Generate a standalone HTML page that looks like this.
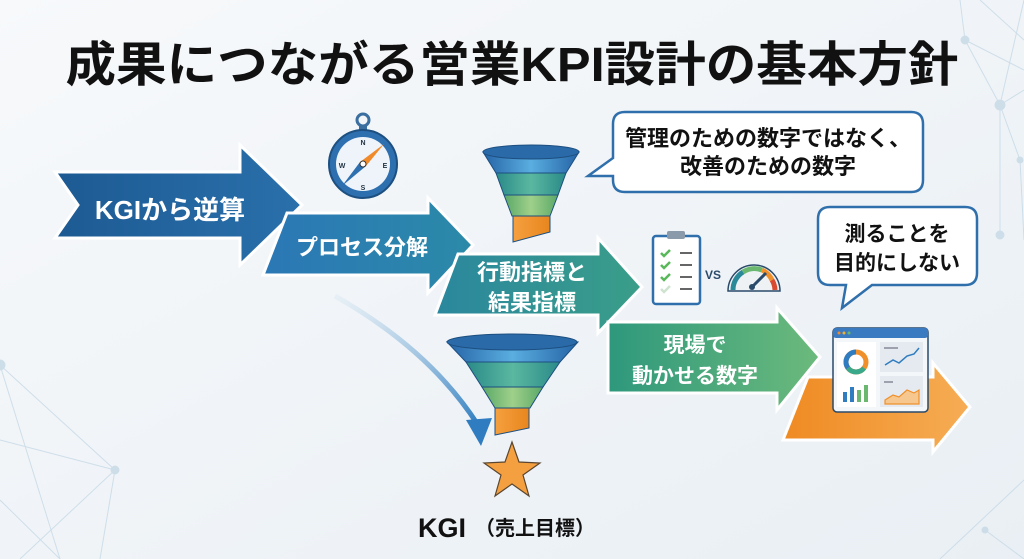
<!DOCTYPE html>
<html><head><meta charset="utf-8">
<style>
html,body{margin:0;padding:0;}
body{width:1024px;height:559px;overflow:hidden;background:#f2f5f8;}
svg{display:block;}
text{font-family:"Liberation Sans","Noto Sans CJK JP",sans-serif;font-weight:bold;}
</style></head>
<body>
<svg width="1024" height="559" viewBox="0 0 1024 559" xmlns="http://www.w3.org/2000/svg">
<defs>
<linearGradient id="bg" x1="0" y1="0" x2="1" y2="1">
<stop offset="0" stop-color="#f7f9fb"/><stop offset="1" stop-color="#e9eff4"/></linearGradient>
<linearGradient id="a1" x1="0" x2="1"><stop offset="0" stop-color="#1d5a93"/><stop offset="1" stop-color="#2a70ab"/></linearGradient>
<linearGradient id="a2" x1="0" x2="1"><stop offset="0" stop-color="#2b77b6"/><stop offset="1" stop-color="#2b8aa8"/></linearGradient>
<linearGradient id="a3" x1="0" x2="1"><stop offset="0" stop-color="#2a879e"/><stop offset="1" stop-color="#3a9e88"/></linearGradient>
<linearGradient id="a4" x1="0" x2="1"><stop offset="0" stop-color="#2e987c"/><stop offset="1" stop-color="#6cba7c"/></linearGradient>
<linearGradient id="a5" x1="0" x2="1"><stop offset="0" stop-color="#ef8a22"/><stop offset="1" stop-color="#f6ad55"/></linearGradient>
<linearGradient id="fb" x1="0" x2="1"><stop offset="0" stop-color="#2563a6"/><stop offset=".5" stop-color="#5aaee0"/><stop offset="1" stop-color="#2563a6"/></linearGradient>
<linearGradient id="ft" x1="0" x2="1"><stop offset="0" stop-color="#2a8a88"/><stop offset=".5" stop-color="#5ab8a0"/><stop offset="1" stop-color="#2a8a88"/></linearGradient>
<linearGradient id="fg" x1="0" x2="1"><stop offset="0" stop-color="#5aa868"/><stop offset=".5" stop-color="#9fd08a"/><stop offset="1" stop-color="#5aa868"/></linearGradient>
<linearGradient id="fo" x1="0" x2="1"><stop offset="0" stop-color="#f5a040"/><stop offset="1" stop-color="#e8861e"/></linearGradient>
<linearGradient id="cv" x1="0" y1="0" x2="1" y2="1"><stop offset="0" stop-color="#cfe3f0" stop-opacity=".3"/><stop offset="1" stop-color="#2f7dc0"/></linearGradient>
</defs>
<rect width="1024" height="559" fill="url(#bg)"/>
<g stroke="#c6d9e6" stroke-width="1" fill="#c6d9e6" opacity=".8">
<line x1="0" y1="365" x2="115" y2="470"/><line x1="0" y1="365" x2="60" y2="559"/><line x1="115" y1="470" x2="20" y2="559"/><line x1="115" y1="470" x2="100" y2="559"/><line x1="0" y1="440" x2="115" y2="470"/><line x1="0" y1="500" x2="60" y2="559"/>
<circle cx="0" cy="365" r="5"/><circle cx="115" cy="470" r="4"/>
<line x1="960" y1="0" x2="965" y2="40"/><line x1="965" y1="40" x2="1024" y2="70"/><line x1="965" y1="40" x2="1000" y2="105"/><line x1="1000" y1="105" x2="1024" y2="90"/><line x1="1000" y1="105" x2="1020" y2="160"/><line x1="1000" y1="105" x2="1000" y2="235"/><line x1="1020" y1="160" x2="1024" y2="240"/><line x1="1000" y1="105" x2="1024" y2="0"/><line x1="980" y1="0" x2="1024" y2="40"/>
<circle cx="965" cy="40" r="4"/><circle cx="1000" cy="105" r="5"/><circle cx="1020" cy="160" r="3"/><circle cx="1000" cy="235" r="4"/>
<line x1="940" y1="559" x2="1024" y2="480"/><line x1="985" y1="530" x2="1024" y2="559"/><circle cx="985" cy="530" r="3"/>
</g>
<text x="512" y="81" font-size="48" text-anchor="middle" fill="#111" textLength="893" lengthAdjust="spacingAndGlyphs">成果につながる営業KPI設計の基本方針</text>

<path d="M335 296 Q430 350 478 425" fill="none" stroke="url(#cv)" stroke-width="5"/>
<polygon points="466,420 492,418 481,446" fill="#2f7dc0"/>

<g stroke="#ffffff" stroke-width="3" stroke-linejoin="miter">
<polygon points="55,172 240,172 240,145 302,205 240,265 240,238 55,238 78,205" fill="url(#a1)"/>
<polygon points="287,213 428,213 428,198 473,245 428,293 428,275 263,275" fill="url(#a2)"/>
<polygon points="458,254 598,254 598,238 642,287 598,333 598,315 435,315" fill="url(#a3)"/>
<polygon points="608,322 777,322 777,308 820,357 777,410 777,393 608,393" fill="url(#a4)"/>
<polygon points="808,377 933,377 933,363 970,407 933,452 933,440 783,440" fill="url(#a5)"/>
</g>
<g fill="#fff" text-anchor="middle">
<text x="170" y="219" font-size="26">KGIから逆算</text>
<text x="362" y="255" font-size="22">プロセス分解</text>
<text x="532" y="280" font-size="22">行動指標と</text>
<text x="532" y="310" font-size="22">結果指標</text>
<text x="695" y="352" font-size="21">現場で</text>
<text x="695" y="383" font-size="21">動かせる数字</text>
</g>

<g>
<circle cx="363" cy="120" r="6" fill="none" stroke="#3a6fa0" stroke-width="3"/>
<rect x="359" y="125" width="8" height="6" fill="#3a6fa0"/>
<circle cx="363" cy="164" r="34" fill="#2e6fb0" stroke="#1d4f80" stroke-width="2"/>
<circle cx="363" cy="164" r="27" fill="#eef4fa"/>
<polygon points="384,144 360,162 366,166" fill="#f08a2a"/>
<polygon points="342,186 360,162 366,166" fill="#2e6fb0"/>
<circle cx="363" cy="164" r="3" fill="#fff" stroke="#333"/>
<g font-size="7" fill="#234" text-anchor="middle"><text x="363" y="145">N</text><text x="363" y="190">S</text><text x="342" y="168">W</text><text x="385" y="168">E</text></g>
</g>

<g stroke="#1d4f80" stroke-width="1">
<polygon points="483,152 579,152 566,173 496,173" fill="url(#fb)"/>
<polygon points="496,173 566,173 558,195 504,195" fill="url(#ft)"/>
<polygon points="504,195 558,195 550,216 512,216" fill="url(#fg)"/>
<polygon points="513,216 550,216 550,232 513,242" fill="url(#fo)"/>
<ellipse cx="531" cy="152" rx="48" ry="7" fill="#2a6aa8"/>
</g>
<g stroke="#1d4f80" stroke-width="1">
<polygon points="447,342 578,342 560,362 466,362" fill="url(#fb)"/>
<polygon points="466,362 560,362 543,387 482,387" fill="url(#ft)"/>
<polygon points="482,387 543,387 530,408 495,408" fill="url(#fg)"/>
<polygon points="495,408 529,408 529,428 495,435" fill="url(#fo)"/>
<ellipse cx="512" cy="342" rx="65" ry="8" fill="#2a6aa8"/>
</g>
<polygon points="512,442 519,462 540,463 523,475 529,496 512,484 495,496 501,475 484,463 505,462" fill="#f4a040" stroke="#5a4630" stroke-width="1.2"/>
<text x="418" y="537" font-size="27" fill="#111">KGI</text>
<text x="475" y="535" font-size="20" fill="#111">（売上目標）</text>

<path d="M625 112 H911 Q923 112 923 124 V180 Q923 192 911 192 H625 Q613 192 613 180 V176 L588 176 L613 158 V124 Q613 112 625 112 Z" fill="#fff" stroke="#2f6fab" stroke-width="2.5"/>
<text x="768" y="146" font-size="22" text-anchor="middle" fill="#111">管理のための数字ではなく、</text>
<text x="768" y="174" font-size="22" text-anchor="middle" fill="#111">改善のための数字</text>
<path d="M830 207 H965 Q977 207 977 219 V273 Q977 285 965 285 H872 L842 308 L846 285 H830 Q818 285 818 273 V219 Q818 207 830 207 Z" fill="#fff" stroke="#2f6fab" stroke-width="2.5"/>
<text x="897" y="241" font-size="21" text-anchor="middle" fill="#111">測ることを</text>
<text x="897" y="270" font-size="21" text-anchor="middle" fill="#111">目的にしない</text>

<rect x="653" y="236" width="47" height="68" rx="3" fill="#fff" stroke="#2f6fab" stroke-width="2.5"/>
<rect x="667" y="231" width="18" height="8" rx="2" fill="#8a9aaa"/>
<g stroke="#5ab85a" stroke-width="2.5" fill="none"><path d="M661 253 l3 3 l6 -6"/><path d="M661 265 l3 3 l6 -6"/><path d="M661 277 l3 3 l6 -6"/></g>
<path d="M661 289 l3 3 l6 -6" stroke="#cfe3d0" stroke-width="2.5" fill="none"/>
<g stroke="#333" stroke-width="1.5"><line x1="680" y1="253" x2="692" y2="253"/><line x1="680" y1="265" x2="692" y2="265"/><line x1="680" y1="277" x2="692" y2="277"/><line x1="680" y1="289" x2="692" y2="289"/></g>
<text x="705" y="279" font-size="12" fill="#2a4a6a">VS</text>
<path d="M728 291 A26 26 0 0 1 780 291 Z" fill="#eef2f5" stroke="#2a4a6a" stroke-width="1.5"/>
<path d="M733 290 A21 21 0 0 1 743 272" stroke="#2a8a9a" stroke-width="5" fill="none"/>
<path d="M743 272 A21 21 0 0 1 762 270" stroke="#6ab870" stroke-width="5" fill="none"/>
<path d="M762 270 A21 21 0 0 1 772 280" stroke="#f0902a" stroke-width="5" fill="none"/>
<path d="M772 280 A21 21 0 0 1 775 290" stroke="#d94a30" stroke-width="5" fill="none"/>
<line x1="752" y1="287" x2="766" y2="273" stroke="#2a4a6a" stroke-width="3"/>
<circle cx="752" cy="287" r="3" fill="#2a4a6a"/>

<rect x="833" y="328" width="95" height="84" rx="4" fill="#f4f7fa" stroke="#2a4a6a" stroke-width="1.5"/>
<rect x="833" y="328" width="95" height="10" rx="3" fill="#3a7ac0"/>
<circle cx="839" cy="333" r="1.5" fill="#f08a2a"/><circle cx="844" cy="333" r="1.5" fill="#f0b030"/><circle cx="849" cy="333" r="1.5" fill="#6ab870"/>
<rect x="837" y="342" width="39" height="65" fill="#fff"/>
<circle cx="856" cy="362" r="10" fill="none" stroke="#f0902a" stroke-width="5"/>
<path d="M856 352 A10 10 0 0 0 848 368" fill="none" stroke="#2f7dc0" stroke-width="5"/>
<path d="M848 368 A10 10 0 0 0 864 368" fill="none" stroke="#3aa88a" stroke-width="5"/>
<rect x="843" y="392" width="4" height="10" fill="#2f7dc0"/><rect x="850" y="387" width="4" height="15" fill="#2f7dc0"/><rect x="857" y="390" width="4" height="12" fill="#6ab870"/><rect x="864" y="385" width="4" height="17" fill="#6ab870"/>
<rect x="880" y="342" width="43" height="30" fill="#e4eaf0"/>
<rect x="880" y="376" width="43" height="31" fill="#e4eaf0"/>
<path d="M885 365 l8 -5 l6 3 l8 -7 l7 -2 l5 -6" stroke="#2f7dc0" stroke-width="1.5" fill="none"/>
<path d="M885 400 l8 -5 l6 2 l8 -7 l7 3 l5 -3 V404 H885 Z" fill="#f6c890" stroke="#f0902a" stroke-width="1.2"/>
<line x1="884" y1="348" x2="898" y2="348" stroke="#889" stroke-width="1.5"/>
<line x1="884" y1="382" x2="893" y2="382" stroke="#889" stroke-width="1.5"/>
</svg>
</body></html>
